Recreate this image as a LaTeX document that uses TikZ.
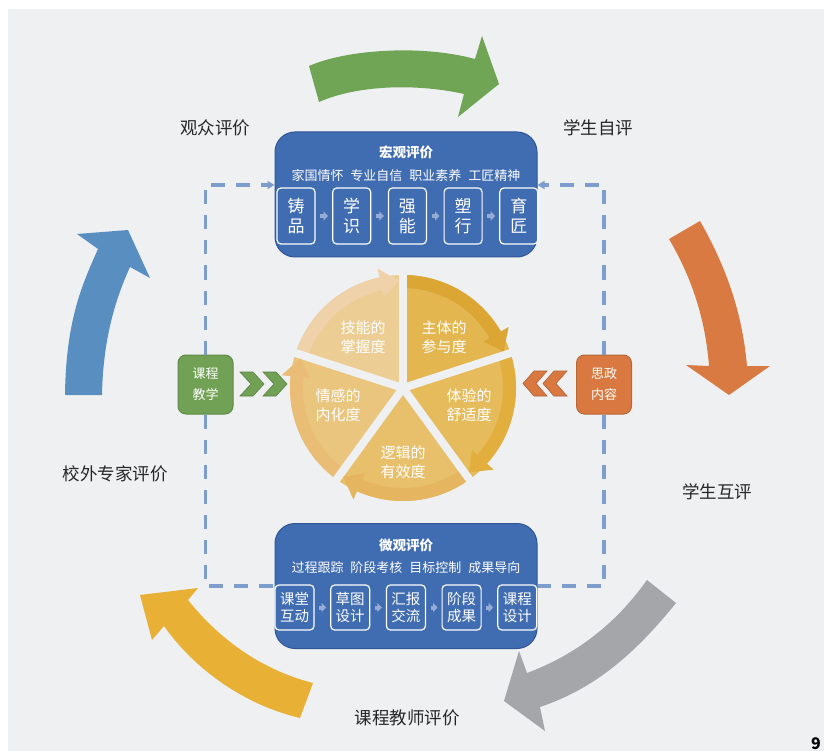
\documentclass[tikz,border=0pt]{standalone}
\usepackage{fontspec}
\setmainfont{Noto Sans CJK SC}
\usetikzlibrary{positioning,arrows.meta}
\definecolor{bgray}{RGB}{238,240,242}
\definecolor{boxblue}{RGB}{64,108,178}
\definecolor{boxedge}{RGB}{48,86,150}
\definecolor{dashblue}{RGB}{125,157,205}
\definecolor{stepgray}{RGB}{150,172,212}
\definecolor{teachgreen}{RGB}{112,161,84}
\definecolor{ideoorange}{RGB}{217,121,65}
\definecolor{arrgreen}{RGB}{112,165,85}
\definecolor{arrorange}{RGB}{217,122,66}
\definecolor{arrgray}{RGB}{165,166,169}
\definecolor{arrgold}{RGB}{232,176,52}
\definecolor{arrblue}{RGB}{88,142,192}
\definecolor{pieA}{RGB}{228,182,80}
\definecolor{pieB}{RGB}{230,187,92}
\definecolor{pieC}{RGB}{232,192,108}
\definecolor{pieD}{RGB}{234,197,125}
\definecolor{pieE}{RGB}{236,205,148}
\definecolor{bandA}{RGB}{220,166,52}
\definecolor{bandB}{RGB}{226,174,62}
\definecolor{bandC}{RGB}{230,181,95}
\definecolor{bandD}{RGB}{234,189,118}
\definecolor{bandE}{RGB}{240,210,170}
\definecolor{labelgray}{RGB}{38,38,38}
\tikzset{dashline/.style={draw=dashblue, line width=3.5pt, dash pattern=on 14pt off 11pt}}

\begin{document}
\begin{tikzpicture}[x=1pt, y=-1pt, node distance=16.5pt]
\tikzstyle{bigbox} = [rectangle, rounded corners=20pt, draw=boxedge, line width=1pt, fill=boxblue, minimum width=262pt, minimum height=125pt]
\tikzstyle{boxtitle} = [text=white, inner sep=0pt, font=\fontsize{13.5}{15}\selectfont\bfseries]
\tikzstyle{boxsub} = [text=white, inner sep=0pt, font=\fontsize{13}{15}\selectfont]
\tikzstyle{stepbox} = [rectangle, rounded corners=4pt, draw=white, line width=1.2pt, fill=boxblue, text=white, align=center, inner sep=0pt, minimum width=38pt, minimum height=56pt, font=\fontsize{17}{20}\selectfont]
\tikzstyle{stepsmall} = [stepbox, minimum width=39pt, minimum height=45pt, font=\fontsize{14.5}{16.5}\selectfont]
\tikzstyle{steparrow} = [draw=stepgray, line width=4pt, -{Triangle[length=4.5pt,width=9pt]}, shorten <=4.5pt, shorten >=4pt]
\tikzstyle{sidebox} = [rectangle, rounded corners=8pt, line width=1pt, text=white, align=center, inner sep=0pt, minimum width=55pt, minimum height=59pt, font=\fontsize{13}{21}\selectfont]
\tikzstyle{pietext} = [text=white, align=center, inner sep=0pt, font=\fontsize{15}{19}\selectfont]
\tikzstyle{evaltext} = [text=labelgray, inner sep=0pt, font=\fontsize{17.5}{20}\selectfont]

\useasboundingbox (0,0) rectangle (824,751);
\fill[white] (0,0) rectangle (824,751);
\fill[bgray] (8,9) rectangle (824,751);

% big cycle arrows
\fill[arrgreen] (309,66) .. controls (345,50) and (420,44) .. (475,59) -- (482,36) -- (499,84) -- (458,117) -- (464,94) .. controls (420,84) and (360,84) .. (319,102) -- cycle;
\fill[arrorange] (700,221) .. controls (725,265) and (742,310) .. (747,366) -- (770,366) -- (729,395) -- (686,365) -- (709,366) .. controls (705,315) and (690,275) .. (669,239) -- cycle;
\fill[arrgray] (676,603) .. controls (630,660) and (590,690) .. (540,707) -- (545,731) -- (504,701) -- (519,651) -- (527,673) .. controls (575,655) and (615,625) .. (647,580) -- cycle;
\fill[arrgold] (313,683) -- (300,718) .. controls (245,705) and (195,670) .. (164,626) -- (152,640) -- (140,595) -- (198,588) -- (188,600) .. controls (220,640) and (262,670) .. (313,683) -- cycle;
\fill[arrblue] (65,395) .. controls (66,320) and (82,285) .. (98,249) -- (77,234) -- (128,230) -- (150,278) -- (130,267) .. controls (115,300) and (103,340) .. (102,395) -- cycle;

% pie
\begin{scope}[shift={(403,388)}, y=1pt]
\foreach \s/\fc/\bc in {90/pieA/bandA, 18/pieB/bandB, -54/pieC/bandC, -126/pieD/bandD, -198/pieE/bandE}{
  \pgfmathsetmacro\e{\s-72}
  \fill[\fc] (0,0) -- (\s:113) arc[start angle=\s, end angle=\e, radius=113] -- cycle;
  \fill[\bc] (\s:113) arc[start angle=\s, end angle=\e+11, radius=113] -- (\e+11:100) arc[start angle=\e+11, end angle=\s, radius=100] -- cycle;
}
\foreach \a in {90,18,-54,-126,162}
  \draw[bgray, line width=8pt] (0,0) -- (\a:125);
\foreach \s/\bc in {90/bandA, 18/bandB, -54/bandC, -126/bandD, -198/bandE}{
  \pgfmathsetmacro\e{\s-72}
  \fill[\bc] (\e+12:93) -- (\e+2:107) -- (\e+12:122) -- cycle;
}
\end{scope}

\node[pietext] (p1) at (444,337) {主体的\\参与度};
\node[pietext] (p2) at (469,405) {体验的\\舒适度};
\node[pietext] (p3) at (403,462) {逻辑的\\有效度};
\node[pietext] (p4) at (338,405) {情感的\\内化度};
\node[pietext] (p5) at (363,337) {技能的\\掌握度};

% macro evaluation
\node[bigbox] (macro) at (406,194.5) {};
\node[boxtitle] (mtitle) at (406,152) {宏观评价};
\node[boxsub] (msub) at (406,176) {家国情怀\hspace{7pt}专业自信\hspace{7pt}职业素养\hspace{7pt}工匠精神};
\node[stepbox] (m1) at (296,216) {铸\\品};
\node[stepbox, right=of m1] (m2) {学\\识};
\node[stepbox, right=of m2] (m3) {强\\能};
\node[stepbox, right=of m3] (m4) {塑\\行};
\node[stepbox, right=of m4] (m5) {育\\匠};

% micro evaluation
\node[bigbox] (micro) at (406,586) {};
\node[boxtitle] (ntitle) at (406,545) {微观评价};
\node[boxsub] (nsub) at (406,568) {过程跟踪\hspace{7pt}阶段考核\hspace{7pt}目标控制\hspace{7pt}成果导向};
\node[stepsmall] (n1) at (294.5,607.5) {课堂\\互动};
\node[stepsmall, right=15.5pt of n1] (n2) {草图\\设计};
\node[stepsmall, right=15.5pt of n2] (n3) {汇报\\交流};
\node[stepsmall, right=15.5pt of n3] (n4) {阶段\\成果};
\node[stepsmall, right=15.5pt of n4] (n5) {课程\\设计};

% side boxes
\node[sidebox, fill=teachgreen, draw=teachgreen!85!black] (teach) at (205.5,384.5) {课程\\教学};
\node[sidebox, fill=ideoorange, draw=ideoorange!85!black] (ideo) at (604,384.5) {思政\\内容};
\foreach \x in {240,263}
  \filldraw[fill=teachgreen, draw=teachgreen!80!black, line width=0.6pt] (\x,372) -- ++(13,0) -- ++(11,12) -- ++(-11,12) -- ++(-13,0) -- ++(11,-12) -- cycle;
\foreach \x in {567,547}
  \filldraw[fill=ideoorange, draw=ideoorange!80!black, line width=0.6pt] (\x,371) -- ++(-13,0) -- ++(-11,12.5) -- ++(11,12.5) -- ++(13,0) -- ++(-11,-12.5) -- cycle;

% evaluators
\node[evaltext] (aud) at (215,128) {观众评价};
\node[evaltext] (self) at (598,128) {学生自评};
\node[evaltext] (expert) at (115,474) {校外专家评价};
\node[evaltext] (peer) at (717,492) {学生互评};
\node[evaltext] (teacher) at (407,718) {课程教师评价};
\node[inner sep=0pt, text=black, font=\fontsize{16}{18}\selectfont\bfseries] (pg) at (816,744) {9};

\path [steparrow] (m1) -- (m2);
\path [steparrow] (m2) -- (m3);
\path [steparrow] (m3) -- (m4);
\path [steparrow] (m4) -- (m5);
\path [steparrow] (n1) -- (n2);
\path [steparrow] (n2) -- (n3);
\path [steparrow] (n3) -- (n4);
\path [steparrow] (n4) -- (n5);
\path [dashline, -{Triangle[length=7pt,width=8pt]}] (teach.north) |- ([yshift=9.5pt]macro.west);
\path [dashline, -{Triangle[length=7pt,width=8pt]}] (ideo.north) |- ([yshift=9.5pt]macro.east);
\path [dashline] (teach.south) |- (micro.west);
\path [dashline] (ideo.south) |- (micro.east);

\end{tikzpicture}
\end{document}
